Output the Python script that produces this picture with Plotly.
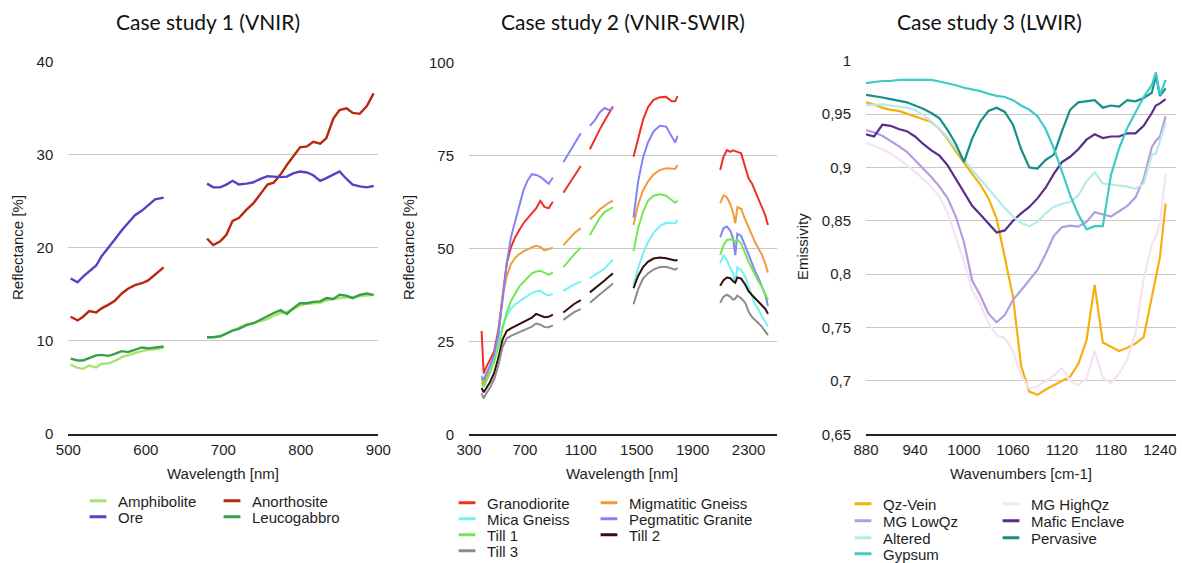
import plotly.graph_objects as go

W, H = 1182, 563

# ---------------- Case study 1 (VNIR) ----------------
wl1_a = [503, 512, 519, 527, 536, 543, 552, 560, 569, 577, 586, 595, 603, 612, 623]
wl1_b = [679, 687, 696, 704, 712, 720, 730, 739, 748, 757, 765, 774, 782, 790, 799,
         808, 816, 825, 833, 842, 850, 859, 867, 876, 885, 894]
amphibolite_a = [7.45, 7.1, 7.0, 7.35, 7.15, 7.55, 7.6, 7.85, 8.25, 8.5, 8.7, 8.9, 9.05, 9.1, 9.3]
amphibolite_b = [10.35, 10.38, 10.5, 10.8, 11.05, 11.35, 11.8, 11.9, 12.1, 12.35, 12.7, 13.0, 13.15,
                 13.4, 13.8, 14.0, 14.05, 14.1, 14.35, 14.5, 14.6, 14.65, 14.7, 14.8, 14.85, 14.95]
anorthosite_a = [12.6, 12.2, 12.6, 13.2, 13.05, 13.5, 13.9, 14.3, 15.1, 15.6, 16.0, 16.2, 16.5, 17.1, 17.9]
anorthosite_b = [21.0, 20.3, 20.7, 21.4, 22.9, 23.2, 24.1, 24.8, 25.8, 26.8, 27.0, 27.9, 28.9,
                 29.8, 30.8, 30.9, 31.4, 31.2, 31.8, 33.9, 34.8, 35.0, 34.5, 34.4, 35.2, 36.6]
ore_a = [16.7, 16.3, 16.9, 17.5, 18.1, 19.1, 20.0, 20.9, 21.9, 22.6, 23.5, 24.0, 24.6, 25.2, 25.4]
ore_b = [26.9, 26.5, 26.5, 26.8, 27.2, 26.8, 26.9, 27.05, 27.4, 27.7, 27.65, 27.6, 27.65,
         28.0, 28.2, 28.1, 27.8, 27.2, 27.5, 27.9, 28.2, 27.4, 26.8, 26.6, 26.5, 26.65]
leucogabbro_a = [8.1, 7.9, 7.9, 8.15, 8.45, 8.5, 8.4, 8.6, 8.9, 8.8, 9.05, 9.3, 9.2, 9.3, 9.4]
leucogabbro_b = [10.4, 10.4, 10.5, 10.8, 11.1, 11.3, 11.7, 11.9, 12.3, 12.65, 13.0, 13.3, 12.9,
                 13.5, 14.05, 14.05, 14.2, 14.25, 14.6, 14.5, 14.95, 14.85, 14.6, 14.95, 15.1, 14.95]

# ---------------- Case study 2 (VNIR-SWIR) ----------------
wl2_a = [390, 405, 420, 450, 480, 510, 540, 570, 600, 630, 660, 690, 720, 750, 780, 810, 840, 870, 900]
wl2_b = [975, 1000, 1025, 1050, 1075, 1100]
wl2_c = [1165, 1200, 1235, 1270, 1300, 1330]
wl2_d = [1477, 1510, 1545, 1580, 1620, 1665, 1710, 1750, 1775, 1792]
wl2_e = [2097, 2121, 2145, 2170, 2190, 2205, 2220, 2247, 2276, 2300, 2324, 2348, 2371, 2396, 2419, 2439]

granodiorite = [
    [27.8, 16.4, 17.8, 20.0, 22.3, 28.1, 37.5, 46.0, 50.3, 53.0, 55.0, 56.8, 58.2, 59.5, 60.8, 62.8, 61.2, 60.8, 62.6],
    [65.0, 66.4, 67.8, 69.3, 70.7, 72.2],
    [76.7, 79.5, 82.0, 84.4, 86.2, 88.2],
    [74.7, 79.8, 84.6, 88.0, 90.0, 90.7, 90.8, 89.6, 89.6, 91.0],
    [71.1, 74.7, 76.5, 76.0, 76.4, 76.3, 76.0, 75.6, 72.0, 68.9, 67.5, 65.3, 63.5, 60.8, 59.0, 56.3]]
migmatitic_gneiss = [
    [15.0, 13.5, 15.0, 18.0, 21.0, 26.5, 37.0, 42.5, 45.8, 47.5, 48.5, 49.2, 49.8, 50.3, 50.7, 50.4, 49.5, 49.8, 50.2],
    [50.9, 52.0, 53.0, 54.0, 54.8, 55.4],
    [57.9, 59.0, 60.5, 61.5, 62.3, 62.9],
    [56.3, 61.8, 65.6, 68.0, 69.9, 71.1, 71.6, 71.5, 71.4, 72.5],
    [62.2, 64.3, 63.8, 61.9, 59.5, 56.8, 61.1, 60.7, 57.8, 55.7, 53.4, 51.6, 50.0, 48.3, 46.0, 43.5]]
mica_gneiss = [
    [15.8, 14.8, 16.0, 18.2, 21.0, 25.0, 29.0, 31.8, 33.8, 35.0, 35.8, 36.5, 37.3, 38.0, 38.5, 38.6, 37.8, 37.4, 37.8],
    [38.6, 39.2, 39.8, 40.3, 40.7, 41.1],
    [42.0, 42.8, 43.6, 44.6, 45.8, 47.0],
    [40.2, 44.8, 48.6, 51.6, 54.2, 56.0, 56.9, 56.8, 56.8, 57.7],
    [46.0, 48.2, 46.9, 44.6, 43.3, 40.6, 44.9, 44.2, 42.4, 39.7, 37.0, 34.8, 33.6, 31.6, 30.3, 29.1]]
pegmatitic_granite = [
    [15.5, 14.6, 16.0, 18.5, 21.5, 27.0, 36.0, 46.0, 53.0, 57.0, 61.7, 65.7, 68.4, 70.0, 69.8, 69.3, 68.4, 67.4, 69.1],
    [73.2, 74.8, 76.5, 78.0, 79.5, 81.0],
    [83.0, 84.5, 86.6, 87.8, 87.3, 87.6],
    [58.3, 68.0, 74.5, 78.5, 81.5, 83.0, 82.8, 80.0, 78.5, 80.3],
    [53.0, 55.5, 55.9, 54.8, 52.6, 48.2, 54.0, 53.4, 50.7, 48.2, 46.0, 43.8, 42.0, 39.8, 37.6, 34.5]]
till_1 = [
    [14.0, 12.8, 14.0, 16.5, 19.5, 23.5, 28.5, 32.8, 35.8, 38.0, 39.8, 41.0, 42.2, 43.3, 43.8, 44.0, 43.5, 42.9, 43.6],
    [45.0, 46.2, 47.3, 48.3, 49.3, 50.2],
    [53.6, 55.8, 58.2, 59.8, 60.5, 61.1],
    [49.3, 55.5, 59.8, 62.8, 64.2, 64.6, 64.2, 62.9, 62.3, 62.9],
    [48.2, 50.9, 52.3, 52.5, 52.3, 51.8, 52.4, 51.4, 48.7, 46.4, 44.7, 42.9, 41.1, 39.7, 37.9, 36.1]]
till_2 = [
    [12.5, 11.3, 12.2, 14.0, 16.5, 20.5, 25.5, 27.8, 28.5, 29.1, 29.6, 30.2, 30.8, 31.4, 32.4, 32.0, 31.5, 31.6, 32.2],
    [32.8, 33.6, 34.3, 35.0, 35.6, 36.1],
    [38.2, 39.2, 40.4, 41.4, 42.4, 43.3],
    [39.3, 42.6, 45.0, 46.4, 47.3, 47.6, 47.4, 47.0, 46.8, 46.9],
    [40.0, 41.5, 42.2, 42.0, 41.2, 40.8, 42.2, 41.9, 40.3, 38.5, 37.5, 36.5, 35.6, 34.7, 33.8, 32.4]]
till_3 = [
    [11.0, 9.7, 10.8, 12.5, 14.8, 18.5, 23.5, 25.8, 26.5, 27.0, 27.5, 27.9, 28.4, 29.0, 29.8, 29.5, 28.9, 28.8, 29.3],
    [30.8, 31.5, 32.2, 32.8, 33.3, 33.7],
    [35.4, 36.4, 37.6, 38.7, 39.7, 40.6],
    [35.0, 39.0, 41.9, 43.3, 44.3, 45.0, 45.1, 44.5, 44.3, 44.7],
    [35.4, 37.0, 37.6, 37.0, 36.2, 36.5, 37.3, 36.6, 35.4, 33.0, 31.6, 30.8, 29.9, 28.9, 27.6, 26.7]]

# ---------------- Case study 3 (LWIR) ----------------
wn3 = [880, 890, 900, 910, 920, 930, 940, 950, 960, 970, 980, 990, 1000, 1010, 1020, 1030, 1040, 1050,
       1060, 1070, 1080, 1090, 1100, 1110, 1120, 1130, 1140, 1150, 1160, 1170, 1180, 1190, 1200, 1210,
       1220, 1230, 1235, 1240, 1247]
qz_vein = [0.961, 0.959, 0.956, 0.954, 0.953, 0.9505, 0.9475, 0.945, 0.9425, 0.936, 0.9265, 0.915, 0.904,
           0.894, 0.884, 0.871, 0.852, 0.816, 0.779, 0.714, 0.690, 0.687, 0.692, 0.696, 0.700, 0.704, 0.716,
           0.738, 0.790, 0.736, 0.732, 0.728, 0.731, 0.735, 0.741, 0.778, 0.797, 0.816, 0.866]
mg_highqz = [0.923, 0.920, 0.917, 0.913, 0.908, 0.902, 0.896, 0.889, 0.882, 0.8725, 0.857, 0.835, 0.812,
             0.785, 0.772, 0.754, 0.743, 0.740, 0.728, 0.705, 0.693, 0.695, 0.700, 0.705, 0.712, 0.700, 0.696,
             0.702, 0.728, 0.703, 0.698, 0.707, 0.720, 0.745, 0.795, 0.828, 0.835, 0.848, 0.894]
mg_lowqz = [0.935, 0.9328, 0.9297, 0.925, 0.920, 0.9147, 0.907, 0.899, 0.891, 0.882, 0.871, 0.854, 0.830,
            0.794, 0.780, 0.763, 0.755, 0.7616, 0.776, 0.785, 0.794, 0.804, 0.819, 0.836, 0.844, 0.8455, 0.8445,
            0.849, 0.858, 0.856, 0.854, 0.859, 0.864, 0.872, 0.889, 0.919, 0.925, 0.929, 0.948]
mafic_enclave = [0.931, 0.929, 0.940, 0.939, 0.936, 0.934, 0.929, 0.922, 0.916, 0.911, 0.902, 0.889, 0.876,
                 0.864, 0.856, 0.847, 0.839, 0.841, 0.850, 0.857, 0.863, 0.871, 0.881, 0.894, 0.905, 0.910,
                 0.917, 0.926, 0.931, 0.9275, 0.929, 0.929, 0.932, 0.932, 0.939, 0.951, 0.958, 0.960, 0.964]
altered = [0.9584, 0.959, 0.959, 0.958, 0.957, 0.956, 0.9538, 0.949, 0.943, 0.936, 0.928, 0.918, 0.907,
           0.8975, 0.889, 0.880, 0.870, 0.862, 0.854, 0.848, 0.845, 0.849, 0.857, 0.863, 0.866, 0.8675, 0.874,
           0.887, 0.8955, 0.885, 0.884, 0.883, 0.882, 0.880, 0.885, 0.912, 0.913, 0.925, 0.942]
pervasive = [0.968, 0.967, 0.9655, 0.964, 0.9625, 0.961, 0.958, 0.955, 0.951, 0.946, 0.935, 0.922, 0.905,
             0.927, 0.943, 0.953, 0.956, 0.952, 0.940, 0.917, 0.900, 0.899, 0.907, 0.912, 0.934, 0.954, 0.961,
             0.962, 0.963, 0.956, 0.958, 0.957, 0.963, 0.962, 0.965, 0.970, 0.986, 0.967, 0.974]
gypsum = [0.979, 0.980, 0.981, 0.981, 0.982, 0.982, 0.982, 0.9815, 0.982, 0.9805, 0.979, 0.977, 0.9747,
          0.973, 0.9715, 0.969, 0.967, 0.966, 0.963, 0.958, 0.954, 0.948, 0.936, 0.918, 0.896, 0.874, 0.856,
          0.842, 0.845, 0.845, 0.893, 0.918, 0.937, 0.951, 0.966, 0.977, 0.989, 0.968, 0.982]

# tick labels
x1_ticks = [500, 600, 700, 800, 900]
y1_ticks = [0, 10, 20, 30, 40]
x2_ticks = [300, 700, 1100, 1500, 1900, 2300]
y2_ticks = [0, 25, 50, 75, 100]
x3_ticks = [880, 940, 1000, 1060, 1120, 1180, 1240]
y3_ticks = [0.65, 0.70, 0.75, 0.80, 0.85, 0.90, 0.95, 1.0]
y3_labels = ["0,65", "0,7", "0,75", "0,8", "0,85", "0,9", "0,95", "1"]

TICK_FONT = dict(family="Liberation Sans, Arial, sans-serif", size=15, color="#1e1e1e")
TITLE_FONT = dict(family="Lato, Open Sans, sans-serif", size=21, color="#111111")
LEG_FONT = dict(family="Liberation Sans, Arial, sans-serif", size=15, color="#1e1e1e")


def join(segs_x, segs_y):
    xs, ys = [], []
    for i, (sx, sy) in enumerate(zip(segs_x, segs_y)):
        if i:
            xs.append(None)
            ys.append(None)
        xs += list(sx)
        ys += list(sy)
    return xs, ys


fig = go.Figure()

wl2 = [wl2_a, wl2_b, wl2_c, wl2_d, wl2_e]
# (name, segments x, segments y, color, width, axis suffix, legend text-start px x, legend row px y)
series = [
    ("Amphibolite", [wl1_a, wl1_b], [amphibolite_a, amphibolite_b], "#a8e46e", 2.4, "", 118, 501),
    ("Anorthosite", [wl1_a, wl1_b], [anorthosite_a, anorthosite_b], "#b8280c", 2.4, "", 252, 501),
    ("Ore", [wl1_a, wl1_b], [ore_a, ore_b], "#5a3ec8", 2.4, "", 118, 517),
    ("Leucogabbro", [wl1_a, wl1_b], [leucogabbro_a, leucogabbro_b], "#3a9f4a", 2.4, "", 252, 517),
    ("Granodiorite", wl2, granodiorite, "#ee3124", 2.0, "2", 487, 503),
    ("Migmatitic Gneiss", wl2, migmatitic_gneiss, "#f39a3b", 2.0, "2", 629, 503),
    ("Mica Gneiss", wl2, mica_gneiss, "#72f2f5", 2.0, "2", 487, 519),
    ("Pegmatitic Granite", wl2, pegmatitic_granite, "#8184f4", 2.0, "2", 629, 519),
    ("Till 1", wl2, till_1, "#72e851", 2.0, "2", 487, 535),
    ("Till 2", wl2, till_2, "#350d0d", 2.0, "2", 629, 535),
    ("Till 3", wl2, till_3, "#8c8c8c", 2.0, "2", 487, 551),
    ("Qz-Vein", [wn3], [qz_vein], "#f5b010", 2.2, "3", 883, 504),
    ("MG HighQz", [wn3], [mg_highqz], "#f5e2f5", 2.2, "3", 1031, 504),
    ("MG LowQz", [wn3], [mg_lowqz], "#b49ddc", 2.2, "3", 883, 521),
    ("Mafic Enclave", [wn3], [mafic_enclave], "#5a2d8c", 2.2, "3", 1031, 521),
    ("Altered", [wn3], [altered], "#b6ebe9", 2.2, "3", 883, 538),
    ("Pervasive", [wn3], [pervasive], "#168f8b", 2.2, "3", 1031, 538),
    ("Gypsum", [wn3], [gypsum], "#3fcac6", 2.2, "3", 883, 554),
]


def px_x(p):
    return p / W


def px_y(p):
    return 1 - p / H


layout = {}
for name, sx, sy, col, lw, ax, tx, ty in series:
    xs, ys = join(sx, sy)
    fig.add_trace(go.Scatter(x=xs, y=ys, mode="lines", name=name, showlegend=False,
                             line=dict(color=col, width=lw), connectgaps=False,
                             xaxis="x" + ax, yaxis="y" + ax, hoverinfo="skip"))

for i, (name, sx, sy, col, lw, ax, tx, ty) in enumerate(series):
    lid = "legend" if i == 0 else "legend%d" % (i + 1)
    fig.add_trace(go.Scatter(x=[None], y=[None], mode="markers", name=name, showlegend=True,
                             legend=lid, xaxis="x" + ax, yaxis="y" + ax,
                             marker=dict(symbol="line-ew", size=12, color=col,
                                         line=dict(color=col, width=3))))
    layout[lid] = dict(orientation="h", x=px_x(tx - 40), xanchor="left", y=px_y(ty), yanchor="middle",
                       font=LEG_FONT, bgcolor="rgba(0,0,0,0)", borderwidth=0, itemwidth=30)

axis_common = dict(showline=False, zeroline=False, ticks="", tickfont=TICK_FONT)
xaxis_common = dict(showgrid=False, showline=True, linecolor="#222222", linewidth=1.5,
                    zeroline=False, ticks="", tickfont=TICK_FONT, ticklabelstandoff=1)
yaxis_common = dict(showgrid=True, gridcolor="#c8c8c8", gridwidth=1.3, ticklabelstandoff=14, **axis_common)

layout.update(dict(
    width=W, height=H, margin=dict(l=0, r=0, t=0, b=0, autoexpand=False),
    paper_bgcolor="white", plot_bgcolor="white", showlegend=True,
    xaxis=dict(domain=[px_x(68.3), px_x(378.3)], range=[500, 900], tickvals=x1_ticks, anchor="y", **xaxis_common),
    yaxis=dict(domain=[px_y(434), px_y(61.7)], range=[0, 40], tickvals=y1_ticks, anchor="x", **yaxis_common),
    xaxis2=dict(domain=[px_x(469), px_x(776.5)], range=[300, 2500], tickvals=x2_ticks, anchor="y2", **xaxis_common),
    yaxis2=dict(domain=[px_y(434.3), px_y(62.7)], range=[0, 100], tickvals=y2_ticks, anchor="x2", **yaxis_common),
    xaxis3=dict(domain=[px_x(866), px_x(1176.3)], range=[880, 1260], tickvals=x3_ticks, anchor="y3", **xaxis_common),
    yaxis3=dict(domain=[px_y(434.3), px_y(60.7)], range=[0.65, 1.0], tickvals=y3_ticks,
                ticktext=y3_labels, anchor="x3", **yaxis_common),
))

ann = []
for txt, cx in [("Case study 1 (VNIR)", 208), ("Case study 2 (VNIR-SWIR)", 623), ("Case study 3 (LWIR)", 989)]:
    ann.append(dict(text=txt, x=px_x(cx), y=px_y(22), xref="paper", yref="paper",
                    showarrow=False, font=TITLE_FONT, xanchor="center", yanchor="middle"))
for txt, cx in [("Wavelength [nm]", 223), ("Wavelength [nm]", 622), ("Wavenumbers [cm-1]", 1021)]:
    ann.append(dict(text=txt, x=px_x(cx), y=px_y(473), xref="paper", yref="paper",
                    showarrow=False, font=TICK_FONT, xanchor="center", yanchor="middle"))
for txt, cx, cy in [("Reflectance [%]", 17, 248), ("Reflectance [%]", 408, 248), ("Emissivity", 802, 247)]:
    ann.append(dict(text=txt, x=px_x(cx), y=px_y(cy), xref="paper", yref="paper", textangle=-90,
                    showarrow=False, font=TICK_FONT, xanchor="center", yanchor="middle"))
layout["annotations"] = ann

fig.update_layout(**layout)
fig.write_html("out.html", config={"displayModeBar": False, "staticPlot": False},
               post_script="document.body.style.margin='0';document.body.style.padding='0';"
                           "document.documentElement.style.overflow='hidden';")
